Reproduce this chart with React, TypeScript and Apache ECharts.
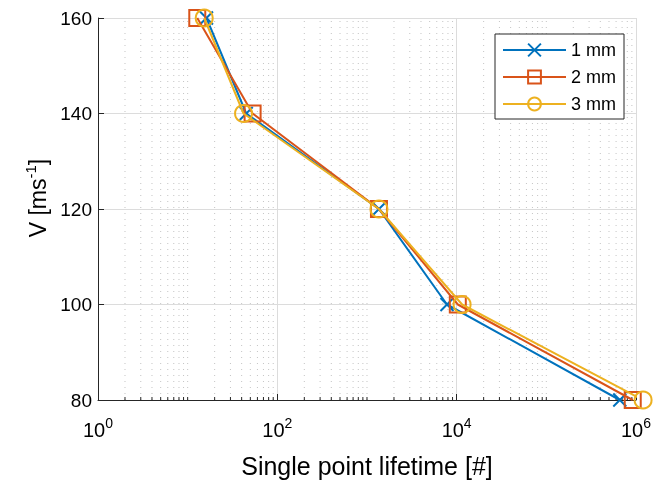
import React, { useEffect, useRef } from "react";
import * as echarts from "echarts";

const speeds = [160, 140, 120, 100, 80];
const life1mm = [16.2, 45, 1360, 7800, 660000];
const life2mm = [12.8, 53, 1360, 10300, 920000];
const life3mm = [15.3, 42, 1360, 11500, 1200000];
const seriesNames = ["1 mm", "2 mm", "3 mm"];
const colors = ["#0072BD", "#D95319", "#EDB120"];
const decades = [0, 1, 2, 3, 4, 5];
const minorMultipliers = [2, 3, 4, 5, 6, 7, 8, 9];
const oddDecades = [10, 1000, 100000];

const FONT = "'Liberation Sans', Arial, Helvetica, sans-serif";

export default function App() {
  const ref = useRef<HTMLDivElement>(null);
  useEffect(() => {
    if (!ref.current) return;
    const chart = echarts.init(ref.current, undefined, { renderer: "svg" });
    const minorXs: number[] = [...oddDecades];
    decades.forEach((d) => minorMultipliers.forEach((m) => minorXs.push(m * Math.pow(10, d))));

    const mk = (i: number, vals: number[], symbol: string, size: number) => ({
      name: seriesNames[i],
      type: "line",
      data: vals.map((v, k) => [v, speeds[k]]),
      symbol,
      symbolSize: size,
      clip: false,
      z: 5 + i,
      lineStyle: { color: colors[i], width: 2 },
      itemStyle: { color: "rgba(0,0,0,0)", borderColor: colors[i], borderWidth: 2 },
      emphasis: { disabled: true },
    });

    chart.setOption({
      animation: false,
      textStyle: { fontFamily: FONT },
      grid: { left: 98, right: 14, top: 18, bottom: 85 },
      legend: {
        data: seriesNames,
        orient: "vertical",
        right: 30,
        top: 34,
        backgroundColor: "#fff",
        borderColor: "#262626",
        borderWidth: 1,
        borderRadius: 0,
        padding: [6, 8, 5, 7],
        itemWidth: 63,
        itemHeight: 16,
        itemGap: 7,
        textStyle: { fontSize: 18, color: "#000", fontFamily: FONT, lineHeight: 20 },
      },
      xAxis: {
        type: "log",
        logBase: 10,
        min: 1,
        max: 1000000,
        interval: 2,
        name: "Single point lifetime [#]",
        nameLocation: "middle",
        nameGap: 53,
        nameTextStyle: { fontSize: 25, color: "#000", fontFamily: FONT },
        axisLine: { show: true, lineStyle: { color: "#262626", width: 1 } },
        axisTick: { show: true, inside: true, length: 6, lineStyle: { color: "#262626" } },
        splitLine: { show: true, lineStyle: { color: "#dcdcdc", width: 1 } },
        axisLabel: {
          margin: 16,
          color: "#000",
          formatter: (v: number) => "{b|10}{s|" + Math.round(Math.log10(v)) + "}",
          rich: {
            b: { fontSize: 20, fontFamily: FONT, color: "#000" },
            s: { fontSize: 14, fontFamily: FONT, color: "#000", padding: [0, 0, 14, 0] },
          },
        },
      },
      yAxis: {
        type: "value",
        min: 80,
        max: 160,
        interval: 20,
        name: "V [ms{s|-1}]",
        nameLocation: "middle",
        nameGap: 28,
        nameRotate: 90,
        nameTextStyle: {
          fontSize: 23,
          color: "#000",
          fontFamily: FONT,
          padding: [0, 0, 0, 22],
          rich: {
            s: { fontSize: 15, fontFamily: FONT, color: "#000", padding: [0, 0, 14, 0] },
          },
        },
        axisLine: { show: true, lineStyle: { color: "#262626", width: 1 } },
        axisTick: { show: true, inside: true, length: 6, lineStyle: { color: "#262626" } },
        splitLine: { show: true, lineStyle: { color: "#dcdcdc", width: 1 } },
        axisLabel: { fontSize: 19, color: "#000", margin: 6, fontFamily: FONT },
      },
      series: [
        {
          name: "minor",
          type: "custom",
          silent: true,
          z: 1,
          data: minorXs.map((v) => [v, 80]),
          encode: { x: 0, y: 1 },
          renderItem: (_params: any, api: any) => {
            const x = api.value(0);
            const p0 = api.coord([x, 80]);
            const p1 = api.coord([x, 160]);
            return {
              type: "group",
              children: [
                {
                  type: "line",
                  shape: { x1: p0[0], y1: p0[1], x2: p1[0], y2: p1[1] },
                  style: { stroke: "#c4c4c4", lineWidth: 1, lineDash: [1, 5] },
                },
                {
                  type: "line",
                  shape: { x1: p0[0], y1: p0[1], x2: p0[0], y2: p0[1] - 3 },
                  style: { stroke: "#262626", lineWidth: 1 },
                },
              ],
            };
          },
        },
        mk(0, life1mm, "path://M0,0L10,10M10,0L0,10", 13),
        mk(1, life2mm, "rect", 16),
        mk(2, life3mm, "circle", 17),
      ],
    });
    return () => chart.dispose();
  }, []);
  return (
    <div
      ref={ref}
      style={{ position: "fixed", left: 0, top: 0, width: 654, height: 485 }}
    />
  );
}
